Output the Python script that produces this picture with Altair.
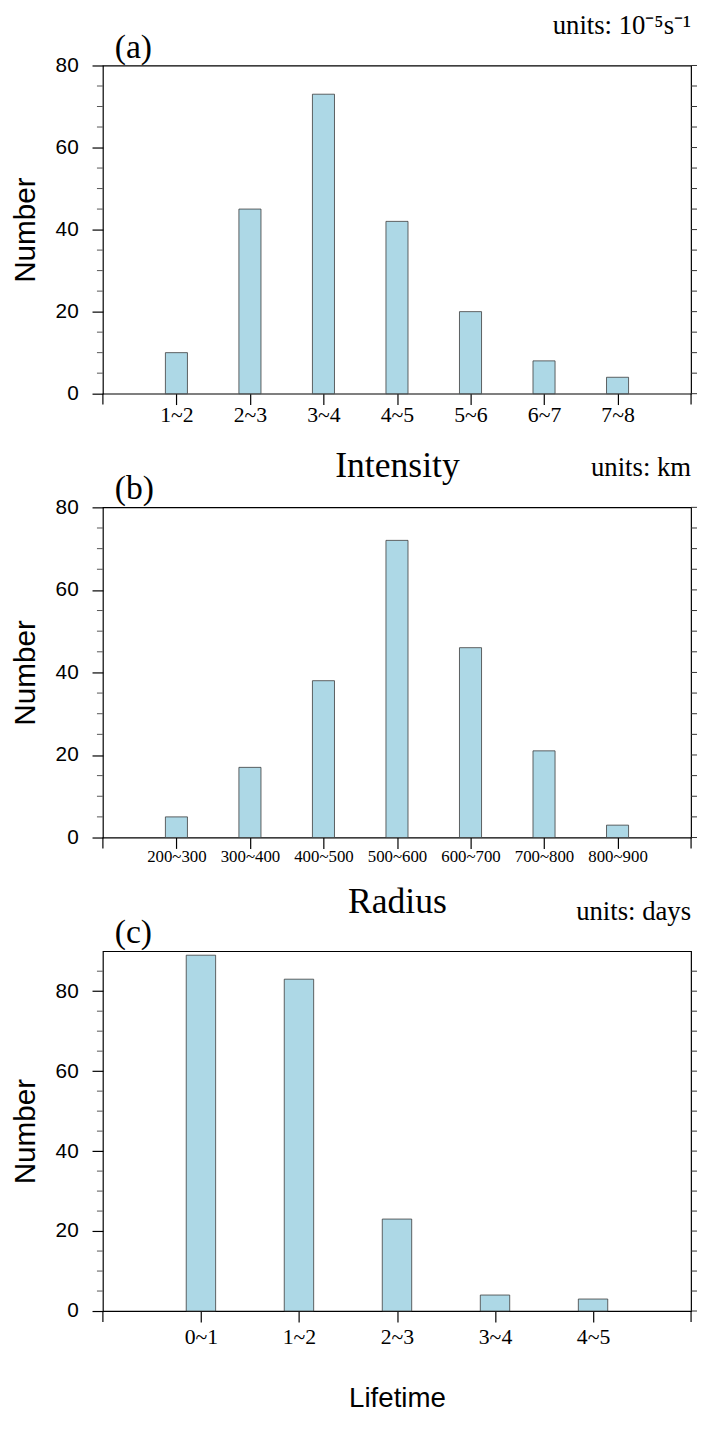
import altair as alt
import pandas as pd

# ---- data ----
int_labels = ["1~2", "2~3", "3~4", "4~5", "5~6", "6~7", "7~8"]
int_counts = [10, 45, 73, 42, 20, 8, 4]

rad_labels = ["200~300", "300~400", "400~500", "500~600", "600~700", "700~800", "800~900"]
rad_counts = [5, 17, 38, 72, 46, 21, 3]

life_labels = ["0~1", "1~2", "2~3", "3~4", "4~5"]
life_counts = [89, 83, 23, 4, 3]

major_ticks = [0, 20, 40, 60, 80]
minor_ab = [5, 10, 15, 25, 30, 35, 45, 50, 55, 65, 70, 75]
minor_c = [5, 10, 15, 25, 30, 35, 45, 50, 55, 65, 70, 75, 85]

SERIF = "Liberation Serif"
SANS = "Liberation Sans"
W = 595
BAR = "#ADD8E6"


def panel(labels, counts, ymax, minor, height, xtitle, xtitle_font, xtitle_size,
          xlabel_size, xlabel_pad, xtitle_pad, tag, units):
    n = len(labels)
    df = pd.DataFrame({"label": labels, "count": counts})
    arr = "[" + ",".join("'%s'" % l for l in labels) + "]"
    yscale = alt.Scale(domain=[0, ymax], nice=False, zero=True)
    xscale = alt.Scale(domain=[0, n + 1], nice=False, zero=False)

    bars = alt.Chart(df).transform_window(
        idx="row_number()"
    ).transform_calculate(
        x0="datum.idx - 0.15", x1="datum.idx + 0.15", base="0"
    ).mark_bar(color=BAR, stroke="#3c3c3c", strokeWidth=0.8).encode(
        x=alt.X("x0:Q", scale=xscale,
                axis=alt.Axis(values=list(range(1, n + 1)),
                              labelExpr=arr + "[datum.value-1]",
                              title=xtitle, titleFont=xtitle_font,
                              titleFontSize=xtitle_size, titleFontWeight="normal",
                              titleColor="black", titlePadding=xtitle_pad,
                              labelFont=SERIF, labelFontSize=xlabel_size,
                              labelColor="black", labelPadding=xlabel_pad,
                              labelFlush=False, labelOverlap=False,
                              tickSize=11, tickColor="black", tickWidth=1.2,
                              domain=False, grid=False)),
        x2="x1:Q",
        y=alt.Y("count:Q", scale=yscale,
                axis=alt.Axis(values=major_ticks, title="Number",
                              titleFont=SANS, titleFontSize=30,
                              titleFontWeight="normal", titleColor="black",
                              titlePadding=15,
                              labelFont=SANS, labelFontSize=21,
                              labelColor="black", labelPadding=14,
                              tickSize=11, tickColor="black", tickWidth=1.2,
                              domain=False, grid=False)),
        y2="base:Q",
    )

    minor_left = alt.Chart(pd.DataFrame({"count": minor})).mark_rule(
        color="#555555", strokeWidth=1
    ).encode(y=alt.Y("count:Q", scale=yscale),
             x=alt.value(-6), x2=alt.value(0))

    right_ticks = alt.Chart(pd.DataFrame({"count": sorted(major_ticks + minor)})).mark_rule(
        color="#333333", strokeWidth=1
    ).encode(y=alt.Y("count:Q", scale=yscale),
             x=alt.value(W), x2=alt.value(W + 6))

    one = pd.DataFrame({"k": [0]})
    ext_left = alt.Chart(one).mark_rule(color="black", strokeWidth=1.2).encode(
        x=alt.value(0), y=alt.value(height), y2=alt.value(height + 11))
    ext_right = alt.Chart(one).mark_rule(color="black", strokeWidth=1.2).encode(
        x=alt.value(W), y=alt.value(height), y2=alt.value(height + 11))

    tag_txt = alt.Chart(pd.DataFrame({"t": [tag]})).mark_text(
        font=SERIF, fontSize=34, align="left", baseline="middle", color="black"
    ).encode(text="t:N", x=alt.value(12), y=alt.value(-18))

    unit_txt = alt.Chart(pd.DataFrame({"t": [units]})).mark_text(
        font=SERIF, fontSize=27, align="right", baseline="middle", color="black"
    ).encode(text="t:N", x=alt.value(W), y=alt.value(-40))

    return alt.layer(bars, minor_left, right_ticks, ext_left, ext_right,
                     tag_txt, unit_txt).properties(width=W, height=height)


pa = panel(int_labels, int_counts, 80, minor_ab, 332, "Intensity", SERIF, 36,
           22, 0, 24, "(a)", "units: 10\u207b\u2075s\u207b\u00b9")
pb = panel(rad_labels, rad_counts, 80, minor_ab, 334, "Radius", SERIF, 36,
           17, 0, 21, "(b)", "units: km")
pc = panel(life_labels, life_counts, 90, minor_c, 364, "Lifetime", SANS, 28,
           22, 5, 38, "(c)", "units: days")

chart = alt.vconcat(pa, pb, pc, spacing=115, bounds="flush").properties(
    autosize=alt.AutoSizeParams(type="none"),
    padding={"left": 96, "top": 50, "right": 6, "bottom": 1355},
).configure_view(stroke="black", strokeWidth=1.2)

chart.save("out.html", embed_options={"renderer": "svg", "actions": False})
